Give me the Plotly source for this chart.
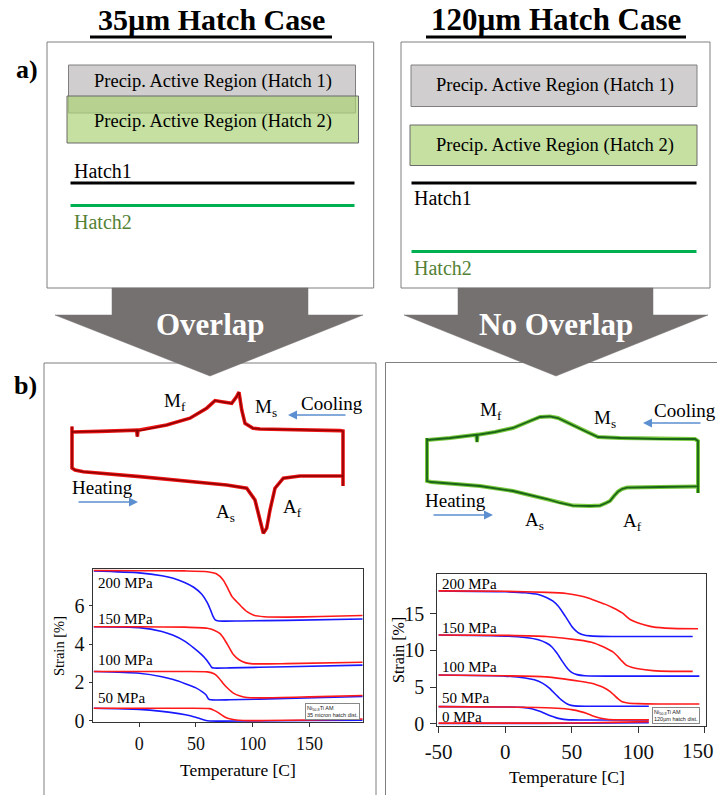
import plotly.graph_objects as go

W, H = 717, 795
SERIF = "Liberation Serif"


def px(x):
    return x / W


def py(y):
    return 1 - y / H


# ---------------- Strain vs temperature: 35 um hatch (left) ----------------
L_red200_T = [-40, 0, 40, 60, 68, 74, 78, 82, 86, 90, 95, 101, 110, 130, 160, 197]
L_red200_S = [7.82, 7.81, 7.8, 7.76, 7.65, 7.33, 6.9, 6.45, 6.2, 5.95, 5.68, 5.5, 5.42, 5.4, 5.43, 5.48]
L_blu200_T = [-40, 0, 20, 30, 40, 48, 55, 60, 63, 65, 67, 70, 90, 130, 197]
L_blu200_S = [7.8, 7.7, 7.55, 7.42, 7.2, 6.95, 6.6, 6.15, 5.75, 5.45, 5.25, 5.2, 5.2, 5.23, 5.3]
L_red150_T = [-40, 0, 40, 60, 66, 71, 75, 79, 83, 88, 94, 100, 130, 197]
L_red150_S = [4.9, 4.9, 4.88, 4.82, 4.72, 4.55, 4.25, 3.85, 3.45, 3.18, 3.02, 2.97, 2.98, 3.05]
L_blu150_T = [-40, 0, 20, 30, 40, 48, 55, 59, 62, 64, 66, 80, 130, 197]
L_blu150_S = [4.9, 4.85, 4.65, 4.45, 4.15, 3.8, 3.45, 3.2, 2.95, 2.78, 2.75, 2.76, 2.82, 2.9]
L_red100_T = [-40, 0, 40, 60, 66, 70, 74, 78, 83, 89, 95, 110, 150, 197]
L_red100_S = [2.57, 2.57, 2.57, 2.55, 2.45, 2.25, 1.95, 1.7, 1.45, 1.3, 1.22, 1.2, 1.25, 1.32]
L_blu100_T = [-40, 0, 20, 30, 40, 50, 56, 59, 61, 63, 80, 130, 197]
L_blu100_S = [2.57, 2.48, 2.3, 2.15, 1.95, 1.72, 1.5, 1.35, 1.15, 1.1, 1.1, 1.17, 1.27]
L_red50_T = [-40, 0, 40, 62, 66, 70, 74, 78, 84, 92, 110, 150, 197]
L_red50_S = [0.66, 0.66, 0.66, 0.64, 0.55, 0.42, 0.26, 0.14, 0.06, 0.02, 0.02, 0.05, 0.1]
L_blu50_T = [-40, 0, 20, 35, 45, 52, 58, 62, 100, 150, 197]
L_blu50_S = [0.66, 0.6, 0.5, 0.38, 0.27, 0.15, 0.04, 0.0, 0.0, 0.02, 0.04]

L_x_ticks = [0, 50, 100, 150]
L_x_labels = ["0", "50", "100", "150"]
L_y_ticks = [0, 2, 4, 6]
L_stress_labels = ["200 MPa", "150 MPa", "100 MPa", "50 MPa"]

# ---------------- Strain vs temperature: 120 um hatch (right) ----------------
R_red200_T = [-50, 0, 31, 46, 56, 63, 69, 75, 81, 88, 94, 99, 105, 111, 125, 145]
R_red200_S = [18.1, 18.05, 17.9, 17.75, 17.45, 17.1, 16.7, 16.3, 15.8, 15.1, 14.2, 13.8, 13.45, 13.2, 13.0, 12.95]
R_blu200_T = [-50, 0, 15, 25, 31, 36, 40, 45, 50, 53, 56, 60, 66, 80, 141]
R_blu200_S = [18.1, 17.98, 17.85, 17.6, 17.2, 16.7, 16.0, 14.7, 13.3, 12.7, 12.3, 12.05, 11.95, 11.9, 11.9]
R_red150_T = [-50, 0, 31, 56, 65, 71, 76, 81, 84, 87, 91, 95, 100, 111, 125, 141]
R_red150_S = [12.1, 12.05, 11.9, 11.4, 11.1, 10.7, 10.3, 9.8, 9.3, 8.7, 8.0, 7.7, 7.5, 7.25, 7.15, 7.15]
R_blu150_T = [-50, 0, 15, 25, 31, 35, 39, 43, 47, 50, 54, 60, 80, 146]
R_blu150_S = [12.1, 11.95, 11.75, 11.45, 11.0, 10.5, 9.6, 8.5, 7.5, 7.0, 6.7, 6.55, 6.5, 6.5]
R_red100_T = [-50, 0, 31, 56, 64, 69, 74, 79, 82, 85, 88, 92, 100, 115, 146]
R_red100_S = [6.65, 6.55, 6.4, 5.8, 5.55, 5.3, 4.95, 4.4, 3.9, 3.4, 3.0, 2.85, 2.75, 2.7, 2.7]
R_blu100_T = [-50, 0, 15, 22, 28, 33, 38, 42, 45, 48, 52, 60, 108]
R_blu100_S = [6.65, 6.5, 6.25, 6.0, 5.55, 4.9, 4.0, 3.3, 2.9, 2.6, 2.45, 2.4, 2.4]
R_red50_T = [-50, 0, 31, 45, 51, 56, 61, 65, 69, 73, 78, 90, 108]
R_red50_S = [2.35, 2.3, 2.2, 2.05, 1.9, 1.7, 1.45, 1.15, 0.9, 0.72, 0.6, 0.55, 0.55]
R_blu50_T = [-50, 0, 13, 20, 26, 30, 34, 38, 42, 46, 51, 60, 108]
R_blu50_S = [2.35, 2.3, 2.25, 2.05, 1.7, 1.4, 1.1, 0.85, 0.68, 0.58, 0.54, 0.52, 0.52]
R_red0_T = [-50, 0, 50, 80, 108]
R_red0_S = [0.1, 0.1, 0.12, 0.2, 0.3]
R_blu0_T = [-50, 0, 50, 108]
R_blu0_S = [0.05, 0.06, 0.08, 0.15]

R_x_ticks = [-50, 0, 50, 100, 150]
R_x_labels = ["-50", "0", "50", "100", ""]   # last label drawn separately so it stays inside the edge
R_x_last_label = "150"
R_y_ticks = [0, 5, 10, 15]
R_stress_labels = ["200 MPa", "150 MPa", "100 MPa", "50 MPa", "0 MPa"]

# ---------------- DSC loops (arbitrary temperature / heat-flow units) ----------------
DL_heat_T = [-50, -50, -47.75, -41.5, 1, 38.5, 66, 81, 87.25, 91, 93.5, 96, 98.5, 102.25, 108.5, 121, 153.5]
DL_heat_Q = [7.1, -3.25, -3.75, -4.2, -5.4, -6.7, -7.5, -8.3, -11.25, -16.25, -19.6, -18.3, -13.75, -8.3, -5.8, -5.25, -5.25]
DL_cool_T = [153.25, 153.25, 151, 121, 91, 85.75, 79.75, 77.3, 75.25, 73.5, 69.8, 62.3, 57.25, 51, 38.5, 21,
             1, -0.5, -1, -1.5, -29, -50]
DL_cool_Q = [-7.75, 6.0, 6.1, 6.25, 6.5, 6.7, 7.9, 11.25, 15.7, 14.6, 12.9, 13.3, 13.6, 11.7, 9.2, 7.5,
             6.1, 6.2, 4.6, 6.2, 5.9, 5.75]

DR_heat_T = [-50, -50, -47, -10.25, 14.5, 27.25, 40, 49.75, 59.5, 72.25, 79.75, 84.25, 87.25, 90.25, 93.25,
             96.25, 100, 124.75, 153.25]
DR_heat_Q = [6.0, -4.75, -5.0, -6.0, -7.25, -8.25, -9.25, -10.25, -10.9, -11.0, -10.9, -10.25, -9.75, -8.5,
             -7.4, -6.75, -6.4, -6.25, -6.1]
DR_cool_T = [153.25, 153.25, 151, 124.75, 94.75, 78.25, 70, 61, 54.25, 48.25, 42.25, 34.75, 27.25, 14.5, 1,
             -10.25, -12, -12.5, -13, -32.75, -50]
DR_cool_Q = [-7.75, 5.25, 5.75, 5.75, 6.0, 6.25, 7.5, 9.0, 10.0, 11.0, 11.4, 11.25, 10.25, 8.5, 7.5,
             6.75, 6.8, 5.0, 6.8, 6.0, 5.5]

RED = "rgb(255,25,25)"
BLUE = "rgb(25,25,255)"

fig = go.Figure()


def add_line(x, y, color, width, xa, ya, shape="spline"):
    fig.add_trace(go.Scatter(x=x, y=y, mode="lines",
                             line=dict(color=color, width=width, shape=shape, smoothing=0.6),
                             xaxis=xa, yaxis=ya, showlegend=False, hoverinfo="skip"))


# left strain plot
for T, S, c in [(L_blu200_T, L_blu200_S, BLUE), (L_red200_T, L_red200_S, RED),
                (L_blu150_T, L_blu150_S, BLUE), (L_red150_T, L_red150_S, RED),
                (L_blu100_T, L_blu100_S, BLUE), (L_red100_T, L_red100_S, RED),
                (L_blu50_T, L_blu50_S, BLUE), (L_red50_T, L_red50_S, RED)]:
    add_line(T, S, c, 1.6, "x", "y")

# right strain plot
for T, S, c in [(R_blu200_T, R_blu200_S, BLUE), (R_red200_T, R_red200_S, RED),
                (R_blu150_T, R_blu150_S, BLUE), (R_red150_T, R_red150_S, RED),
                (R_blu100_T, R_blu100_S, BLUE), (R_red100_T, R_red100_S, RED),
                (R_blu50_T, R_blu50_S, BLUE), (R_red50_T, R_red50_S, RED),
                (R_blu0_T, R_blu0_S, BLUE), (R_red0_T, R_red0_S, RED)]:
    add_line(T, S, c, 1.6, "x2", "y2")

# DSC loops
for T, Q in [(DL_heat_T, DL_heat_Q), (DL_cool_T, DL_cool_Q)]:
    add_line(T, Q, "rgb(235,20,20)", 3.6, "x3", "y3", "linear")
for T, Q in [(DL_heat_T, DL_heat_Q), (DL_cool_T, DL_cool_Q)]:
    add_line(T, Q, "rgb(140,0,0)", 1.4, "x3", "y3", "linear")
for T, Q in [(DR_heat_T, DR_heat_Q), (DR_cool_T, DR_cool_Q)]:
    add_line(T, Q, "rgb(120,200,60)", 4.0, "x4", "y4", "linear")
for T, Q in [(DR_heat_T, DR_heat_Q), (DR_cool_T, DR_cool_Q)]:
    add_line(T, Q, "rgb(25,100,25)", 1.8, "x4", "y4", "linear")

AX = dict(showgrid=False, zeroline=False, showline=True, mirror=True, linecolor="#333",
          linewidth=1.3, ticks="outside", tickcolor="#333", fixedrange=True, automargin=False,
          ticklabeloverflow="allow")

fig.update_layout(
    template="none",
    width=W, height=H, autosize=False,
    margin=dict(l=0, r=0, t=0, b=0, pad=0, autoexpand=False),
    paper_bgcolor="white", plot_bgcolor="white", showlegend=False,
    xaxis=dict(AX, domain=[px(92.7), px(362.7)], range=[-41, 197], tickvals=L_x_ticks, ticktext=L_x_labels,
               anchor="y", ticklen=4, tickfont=dict(family=SERIF, size=18, color="#111"), ticklabelstandoff=1),
    yaxis=dict(AX, domain=[py(722.3), py(569)], range=[-0.07, 7.9], tickvals=L_y_ticks, anchor="x",
               ticklen=3, tickfont=dict(family=SERIF, size=20, color="#111"), ticklabelstandoff=0),
    xaxis2=dict(AX, domain=[px(437.3), px(706)], range=[-51, 151], tickvals=R_x_ticks, ticktext=R_x_labels,
                anchor="y2", ticklen=6, tickfont=dict(family=SERIF, size=21, color="#111"), ticklabelstandoff=1),
    yaxis2=dict(AX, domain=[py(725.7), py(574)], range=[-0.25, 20.4], tickvals=R_y_ticks, anchor="x2",
                ticklen=6, tickfont=dict(family=SERIF, size=20, color="#111"), ticklabelstandoff=2),
    xaxis3=dict(domain=[px(60), px(360)], range=[-59, 166], visible=False, anchor="y3", fixedrange=True),
    yaxis3=dict(domain=[py(545), py(380)], range=[-22.5, 18.75], visible=False, anchor="x3", fixedrange=True),
    xaxis4=dict(domain=[px(415), px(717)], range=[-59, 167.5], visible=False, anchor="y4", fixedrange=True),
    yaxis4=dict(domain=[py(545), py(380)], range=[-20.75, 20.5], visible=False, anchor="x4", fixedrange=True),
)

shapes = []


def rect(x0, y0, x1, y1, fill="rgba(0,0,0,0)", line="#7f7f7f", lw=1):
    shapes.append(dict(type="rect", xref="paper", yref="paper", x0=px(x0), x1=px(x1), y0=py(y1), y1=py(y0),
                       fillcolor=fill, line=dict(color=line, width=lw), layer="below"))


def hline(x0, x1, y, color, lw):
    shapes.append(dict(type="line", xref="paper", yref="paper", x0=px(x0), x1=px(x1), y0=py(y), y1=py(y),
                       line=dict(color=color, width=lw)))


GRAYFILL = "#d0cece"
GREENFILL = "rgba(172,211,119,0.7)"

# panel a) boxes
rect(47, 42, 373.7, 288)
rect(401, 42, 710, 288)
rect(68.5, 65, 355.5, 113, fill=GRAYFILL, line="#808080")
rect(67, 96, 358.5, 143, fill=GREENFILL, line="#6a6a6a")
rect(411, 65, 697, 106.5, fill=GRAYFILL, line="#808080")
rect(410, 125, 697, 165.5, fill=GREENFILL, line="#6a6a6a")
hline(70.5, 354.5, 183, "black", 3)
hline(70.5, 354.5, 205.5, "#00b050", 3)
hline(411.5, 696.5, 183, "black", 3)
hline(411.5, 696.5, 251.5, "#00b050", 3)

# panel b) boxes (bottom / right edges run off the picture)
rect(44, 363, 376, 820)
rect(385.5, 362.5, 730, 820)


def path_from(pts):
    return "M " + " L ".join(f"{px(x):.5f},{py(y):.5f}" for x, y in pts) + " Z"


ARROW = "#767171"
for sx0, sx1, hx0, hx1, tip in [(112, 308, 55, 363, 210), (458, 653, 404, 708, 556)]:
    pts = [(sx0, 288), (sx1, 288), (sx1, 315), (hx1, 315), (tip, 376), (hx0, 315), (sx0, 315)]
    shapes.append(dict(type="path", xref="paper", yref="paper", path=path_from(pts),
                       fillcolor=ARROW, line=dict(color=ARROW, width=0.5)))

# title underlines
hline(90, 332, 37, "black", 3)
hline(426, 686, 37, "black", 3)

fig.update_layout(shapes=shapes)


def txt(x, y, text, size, color="black", xanchor="center", bold=False, family=SERIF, angle=0):
    if bold:
        text = f"<b>{text}</b>"
    fig.add_annotation(x=px(x), y=py(y), xref="paper", yref="paper", text=text, showarrow=False,
                       xanchor=xanchor, yanchor="middle", textangle=angle,
                       font=dict(family=family, size=size, color=color))


# titles
txt(211, 20, "35µm Hatch Case", 30, bold=True)
txt(556, 20, "120µm Hatch Case", 31, bold=True)
txt(27, 70, "a)", 26, bold=True)
txt(26, 385, "b)", 26, bold=True)

# panel a) texts
txt(213, 82, "Precip. Active Region (Hatch 1)", 18.5)
txt(213, 122, "Precip. Active Region (Hatch 2)", 18.5)
txt(555, 86, "Precip. Active Region (Hatch 1)", 18.5)
txt(555, 146, "Precip. Active Region (Hatch 2)", 18.5)
txt(72, 171, "Hatch1", 20, xanchor="left")
txt(72, 222, "Hatch2", 20, color="#538135", xanchor="left")
txt(412, 198, "Hatch1", 20, xanchor="left")
txt(412, 268, "Hatch2", 20, color="#538135", xanchor="left")

# arrow texts
txt(210, 324, "Overlap", 31, color="white", bold=True)
txt(556, 324, "No Overlap", 31, color="white", bold=True)

# DSC labels
for (x, y, t) in [(175, 402, "M<sub>f</sub>"), (266, 408, "M<sub>s</sub>"), (332, 403, "Cooling"),
                  (103, 487, "Heating"), (225, 513, "A<sub>s</sub>"), (292, 508, "A<sub>f</sub>"),
                  (491, 411, "M<sub>f</sub>"), (605, 419, "M<sub>s</sub>"), (685, 410, "Cooling"),
                  (455, 500, "Heating"), (534, 521, "A<sub>s</sub>"), (632, 522, "A<sub>f</sub>")]:
    txt(x, y, t, 19)

ARROWBLUE = "#5b8fd0"
for hx, hy, ax in [(288, 415, 59), (138, 502, -61), (643, 423, 59), (493, 515, -61)]:
    fig.add_annotation(x=px(hx), y=py(hy), xref="paper", yref="paper", text="", showarrow=True,
                       ax=ax, ay=0, arrowhead=2, arrowsize=1.2, arrowwidth=1.5, arrowcolor=ARROWBLUE)

# strain plot labels
for (y, t) in zip([583, 619, 660, 698], L_stress_labels):
    txt(96, y, t, 15, xanchor="left")
for (y, t) in zip([584, 628, 667, 698, 717], R_stress_labels):
    txt(440, y, t, 15, xanchor="left")

# last tick label of right plot, kept inside the right edge
fig.add_annotation(x=1.0, y=py(751), xref="paper", yref="paper", text=R_x_last_label, showarrow=False,
                   xanchor="right", yanchor="middle", xshift=-1,
                   font=dict(family=SERIF, size=21, color="#111"))

txt(59, 646, "Strain [%]", 14.5, angle=-90)
txt(398, 650, "Strain [%]", 16, angle=-90)
txt(238, 770, "Temperature [C]", 17.5)
txt(567, 777, "Temperature [C]", 17.5)

# small material boxes
for (x, y, t) in [(332, 711, "Ni<sub>50.8</sub>Ti AM<br>35 micron hatch dist."),
                  (676, 715, "Ni<sub>50.8</sub>Ti AM<br>120µm hatch dist.")]:
    fig.add_annotation(x=px(x), y=py(y), xref="paper", yref="paper", text=t, showarrow=False,
                       xanchor="center", yanchor="middle", align="left",
                       font=dict(family="Liberation Sans", size=5.5, color="#222"),
                       bgcolor="white", bordercolor="#888", borderwidth=1, borderpad=1)

fig.write_html("out.html")
